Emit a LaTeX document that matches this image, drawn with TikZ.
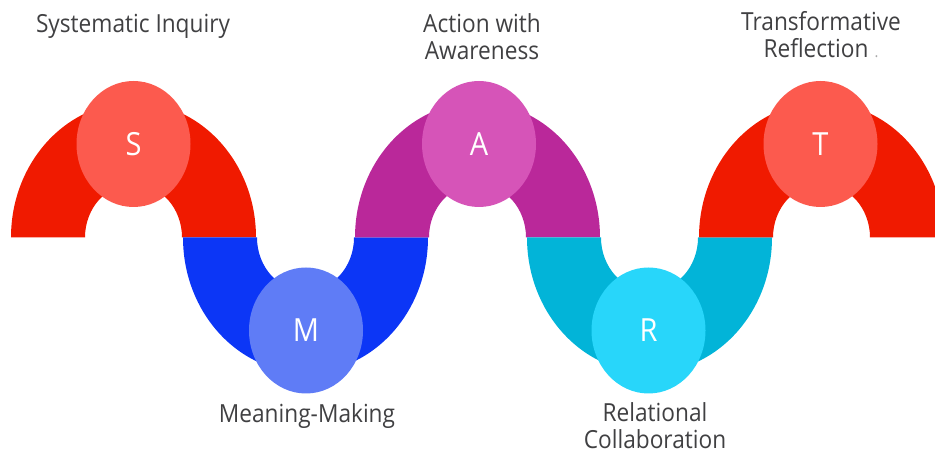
\documentclass[tikz,border=0pt]{standalone}
\usepackage{fontspec}
\setmainfont{Open Sans}[FakeStretch=0.91]
\usetikzlibrary{shapes.geometric}
\definecolor{archred}{RGB}{240,26,0}
\definecolor{circred}{RGB}{252,90,78}
\definecolor{archblue}{RGB}{12,54,246}
\definecolor{circblue}{RGB}{95,124,246}
\definecolor{archpurple}{RGB}{186,40,154}
\definecolor{circpurple}{RGB}{214,84,184}
\definecolor{archcyan}{RGB}{2,180,216}
\definecolor{circcyan}{RGB}{40,214,250}
\definecolor{labelgray}{RGB}{64,64,66}
\tikzset{
  letterdisc/.style={ellipse, inner sep=0pt, minimum width=114bp, minimum height=126bp,
    text=white, font=\fontsize{32}{32}\selectfont},
  caption/.style={text=labelgray, align=center, inner sep=0pt,
    font=\fontsize{25}{27.5}\selectfont},
}
\newcommand{\toparch}[2]{%
  \fill[#2] (#1-122.5,217.5) arc[start angle=180, end angle=0, x radius=122.5, y radius=135]
    -- (#1+48.5,217.5) arc[start angle=0, end angle=180, x radius=48.5, y radius=53.6] -- cycle;}
\newcommand{\botarch}[2]{%
  \fill[#2] (#1-122.5,217.5) arc[start angle=180, end angle=360, x radius=122.5, y radius=135]
    -- (#1+48.5,217.5) arc[start angle=360, end angle=180, x radius=48.5, y radius=53.6] -- cycle;}
\begin{document}
\begin{tikzpicture}[x=1bp, y=1bp]
\useasboundingbox (0,0) rectangle (935,455);
\clip (0,0) rectangle (935,455);
\toparch{133.5}{archred}
\botarch{305.5}{archblue}
\toparch{477.5}{archpurple}
\botarch{649.5}{archcyan}
\toparch{821.5}{archred}
\node[letterdisc, fill=circred] (S) at (133.5,311) {S};
\node[letterdisc, fill=circblue] (M) at (306,124.5) {M};
\node[letterdisc, fill=circpurple] (A) at (479,311) {A};
\node[letterdisc, fill=circcyan] (R) at (648.5,124.5) {R};
\node[letterdisc, fill=circred] (T) at (820.5,311) {T};
\node[caption, anchor=base] (ls) at (133,422) {Systematic Inquiry};
\node[caption, anchor=base] (la) at (482,395.5) {Action with\\Awareness};
\node[caption, anchor=base] (lt) at (821,397) {Transformative\\Reflection\hspace{6bp}{\color{labelgray!45}\fontsize{16}{16}\selectfont.}};
\node[caption, anchor=base] (lm) at (307,32) {Meaning-Making};
\node[caption, anchor=base] (lr) at (655,6) {Relational\\Collaboration};
\end{tikzpicture}
\end{document}
